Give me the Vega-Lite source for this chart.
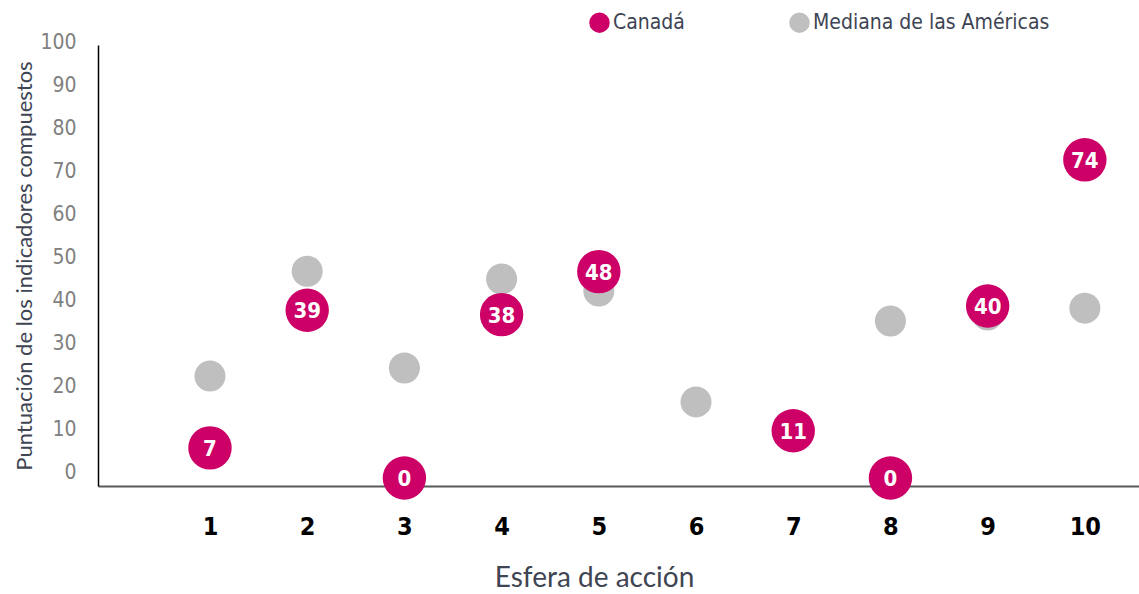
{
  "$schema": "https://vega.github.io/schema/vega-lite/v6.json",
  "autosize": {"type": "none"},
  "padding": {"left": 98, "top": 45, "right": 0, "bottom": 108},
  "width": 1041,
  "height": 441,
  "background": "white",
  "config": {"view": {"stroke": null}},
  "data": {
    "values": [
      {"esfera": 1, "serie": "Canadá", "valor": 7},
      {"esfera": 2, "serie": "Canadá", "valor": 39},
      {"esfera": 3, "serie": "Canadá", "valor": 0},
      {"esfera": 4, "serie": "Canadá", "valor": 38},
      {"esfera": 5, "serie": "Canadá", "valor": 48},
      {"esfera": 7, "serie": "Canadá", "valor": 11},
      {"esfera": 8, "serie": "Canadá", "valor": 0},
      {"esfera": 9, "serie": "Canadá", "valor": 40},
      {"esfera": 10, "serie": "Canadá", "valor": 74},
      {"esfera": 1, "serie": "Mediana de las Américas", "valor": 23.7},
      {"esfera": 2, "serie": "Mediana de las Américas", "valor": 48.1},
      {"esfera": 3, "serie": "Mediana de las Américas", "valor": 25.6},
      {"esfera": 4, "serie": "Mediana de las Américas", "valor": 46.3},
      {"esfera": 5, "serie": "Mediana de las Américas", "valor": 43.5},
      {"esfera": 6, "serie": "Mediana de las Américas", "valor": 17.7},
      {"esfera": 8, "serie": "Mediana de las Américas", "valor": 36.5},
      {"esfera": 9, "serie": "Mediana de las Américas", "valor": 37.9},
      {"esfera": 10, "serie": "Mediana de las Américas", "valor": 39.5}
    ]
  },
  "encoding": {
    "x": {
      "field": "esfera",
      "type": "quantitative",
      "scale": {"domain": [-0.152, 10.557], "nice": false, "zero": false},
      "axis": {
        "values": [1, 2, 3, 4, 5, 6, 7, 8, 9, 10],
        "format": "d",
        "title": "Esfera de acción",
        "grid": false,
        "ticks": false,
        "domainColor": "#595959",
        "domainWidth": 2,
        "labelFlush": false,
        "labelFont": "DejaVu Sans Condensed",
        "labelFontWeight": "bold",
        "labelFontSize": 25,
        "labelColor": "#000000",
        "labelPadding": 28,
        "titleFont": "Lato",
        "titleFontSize": 28,
        "titleFontWeight": "normal",
        "titleColor": "#404553",
        "titleX": 496,
        "titleY": 100,
        "titleBaseline": "alphabetic"
      }
    },
    "y": {
      "field": "valor",
      "type": "quantitative",
      "scale": {"domain": [-1.86, 100.7], "nice": false, "zero": false},
      "axis": {
        "values": [0, 10, 20, 30, 40, 50, 60, 70, 80, 90, 100],
        "title": "Puntuación de los indicadores compuestos",
        "grid": false,
        "ticks": false,
        "domainColor": "#000000",
        "domainWidth": 1.5,
        "labelFlush": false,
        "labelFont": "DejaVu Sans Condensed",
        "labelFontSize": 21,
        "labelColor": "#808080",
        "labelPadding": 22,
        "labelOffset": -6,
        "titleFont": "Lato",
        "titleFontSize": 22,
        "titleFontWeight": "normal",
        "titleColor": "#404553",
        "titleX": -62
      }
    }
  },
  "layer": [
    {
      "transform": [{"filter": "datum.serie === 'Mediana de las Américas'"}],
      "mark": {"type": "circle", "size": 962, "opacity": 1},
      "encoding": {
        "color": {
          "field": "serie",
          "type": "nominal",
          "scale": {"domain": ["Canadá", "Mediana de las Américas"], "range": ["#cc0066", "#bfbfbf"]},
          "legend": {
            "orient": "none",
            "legendX": 491,
            "legendY": -33,
            "direction": "horizontal",
            "title": null,
            "padding": 0,
            "symbolType": "circle",
            "symbolSize": 420,
            "symbolStrokeWidth": 0,
            "symbolOpacity": 1,
            "labelFont": "DejaVu Sans Condensed",
            "labelFontSize": 21,
            "labelLimit": 400,
            "labelColor": "#3d4454",
            "labelOffset": 3,
            "columnPadding": 104
          }
        }
      }
    },
    {
      "transform": [{"filter": "datum.serie === 'Canadá'"}],
      "mark": {"type": "circle", "size": 1886, "opacity": 1},
      "encoding": {
        "color": {"field": "serie", "type": "nominal"}
      }
    },
    {
      "transform": [{"filter": "datum.serie === 'Canadá'"}],
      "mark": {
        "type": "text",
        "color": "#ffffff",
        "font": "DejaVu Sans Condensed",
        "fontWeight": "bold",
        "fontSize": 22,
        "baseline": "middle",
        "align": "center",
        "dy": 1
      },
      "encoding": {
        "text": {"field": "valor", "type": "quantitative", "format": "d"}
      }
    }
  ]
}
